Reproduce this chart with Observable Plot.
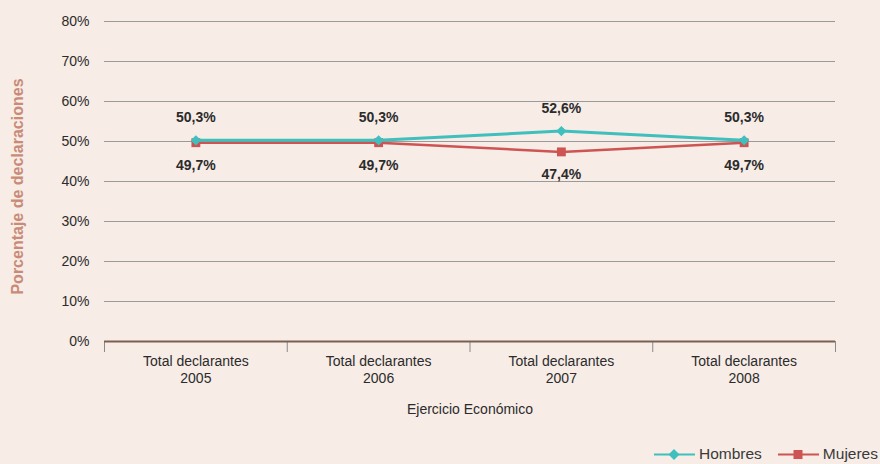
<!DOCTYPE html>
<html>
<head>
<meta charset="utf-8">
<script src="https://cdn.jsdelivr.net/npm/d3@7"></script>
<script src="https://cdn.jsdelivr.net/npm/@observablehq/plot@0.6"></script>
<style>
  html, body { margin: 0; padding: 0; background: #f7ece6; }
  #chart { width: 880px; height: 464px; overflow: hidden; font-family: "Liberation Sans", Arial, sans-serif; }
  .legend { display: flex; justify-content: flex-end; align-items: center; height: 20px; padding-right: 2px; font-size: 15.5px; color: #3a3a3a; }
  .legend .item { display: flex; align-items: center; margin-left: 16px; }
  .legend svg { margin-right: 4px; }
</style>
</head>
<body>
<div id="chart"></div>
<script>
const categories = ["Total declarantes\n2005", "Total declarantes\n2006", "Total declarantes\n2007", "Total declarantes\n2008"];
const hombres = [50.3, 50.3, 52.6, 50.3];
const mujeres = [49.7, 49.7, 47.4, 49.7];
const yTicks = [0, 10, 20, 30, 40, 50, 60, 70, 80];
const seriesNames = ["Hombres", "Mujeres"];
const colors = ["#3fbfbd", "#cd5452"];

const rows = categories.map((c, i) => ({i, c, h: hombres[i], m: mujeres[i]}));
const fmt = v => v.toFixed(1).replace(".", ",") + "%";
const xPos = d => d.i + 0.5;

const plot = Plot.plot({
  width: 880,
  height: 444,
  marginTop: 21,
  marginBottom: 103,
  marginLeft: 104,
  marginRight: 45,
  style: {background: "transparent", fontFamily: "'Liberation Sans', Arial, sans-serif", overflow: "visible"},
  x: {type: "linear", domain: [0, categories.length], axis: null},
  y: {domain: [0, 80], axis: null},
  marks: [
    Plot.ruleY(yTicks.filter(d => d > 0), {stroke: "#9a9a9a", strokeWidth: 1}),
    Plot.axisY({ticks: yTicks, tickSize: 0, tickPadding: 15, tickFormat: d => d + "%", fontSize: 14, fill: "#2b2b2b", label: null}),
    Plot.axisX({ticks: d3.range(categories.length + 1), tickSize: 11, tickFormat: () => "", stroke: "#8a8a8a", label: null}),
    Plot.ruleY([0], {stroke: "#7b5f50", strokeWidth: 2}),
    Plot.text(rows, {x: xPos, frameAnchor: "bottom", lineAnchor: "top", dy: 12, text: "c", fontSize: 14, lineHeight: 1.22, fill: "#2b2b2b"}),
    Plot.text(["Ejercicio Económico"], {frameAnchor: "bottom", dy: 72, fontSize: 14, fill: "#2b2b2b"}),
    Plot.text(["Porcentaje de declaraciones"], {frameAnchor: "left", textAnchor: "middle", lineAnchor: "middle", dx: -87, dy: 5, rotate: -90, fill: "#c98b78", fontWeight: "bold", fontSize: 16}),
    Plot.line(rows, {x: xPos, y: "m", stroke: colors[1], strokeWidth: 2.5}),
    Plot.dot(rows, {x: xPos, y: "m", symbol: "square", r: 5, fill: colors[1], stroke: "none"}),
    Plot.line(rows, {x: xPos, y: "h", stroke: colors[0], strokeWidth: 3}),
    Plot.dot(rows, {x: xPos, y: "h", symbol: "diamond2", r: 4.6, fill: colors[0], stroke: "none"}),
    Plot.text(rows, {x: xPos, y: "h", text: d => fmt(d.h), dy: -23, fontWeight: "bold", fontSize: 14, fill: "#2b2b2b"}),
    Plot.text(rows, {x: xPos, y: "m", text: d => fmt(d.m), dy: 23, fontWeight: "bold", fontSize: 14, fill: "#2b2b2b"})
  ]
});

const chart = document.getElementById("chart");
chart.appendChild(plot);

const legend = document.createElement("div");
legend.className = "legend";
seriesNames.forEach((name, k) => {
  const item = document.createElement("div");
  item.className = "item";
  const marker = k === 0
    ? `<polygon points="20,1 25.5,6.5 20,12 14.5,6.5" fill="${colors[0]}"/>`
    : `<rect x="15.5" y="2" width="9" height="9" fill="${colors[1]}"/>`;
  item.innerHTML = `<svg width="41" height="13"><line x1="0" x2="41" y1="6.5" y2="6.5" stroke="${colors[k]}" stroke-width="2"/>${marker}</svg><span>${name}</span>`;
  legend.appendChild(item);
});
chart.appendChild(legend);
</script>
</body>
</html>
